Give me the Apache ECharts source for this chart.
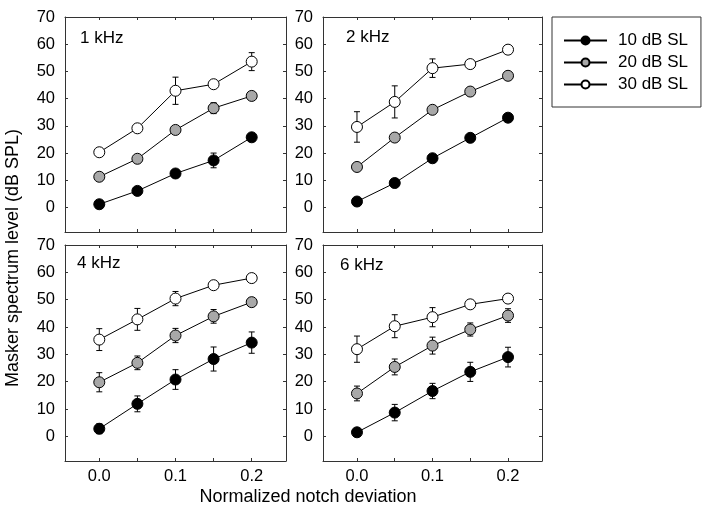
<!DOCTYPE html>
<html>
<head>
<meta charset="utf-8">
<script src="https://cdn.jsdelivr.net/npm/echarts@6/dist/echarts.min.js"></script>
<style>html,body{margin:0;padding:0;background:#fff}#c{width:709px;height:512px}</style>
</head>
<body>
<div id="c"></div>
<script>
// ---- data ----
var notchX = [0, 0.05, 0.1, 0.15, 0.2];
var seriesNames = ['10 dB SL', '20 dB SL', '30 dB SL'];
var panelNames = ['1 kHz', '2 kHz', '4 kHz', '6 kHz'];
var xTickLabels = [0, 0.1, 0.2];
var yTickLabels = [0, 10, 20, 30, 40, 50, 60, 70];

var k1_sl10 = [1.2, 6.1, 12.5, 17.3, 25.8];
var k1_sl20 = [11.3, 17.9, 28.5, 36.5, 41.0];
var k1_sl30 = [20.3, 29.1, 42.9, 45.3, 53.6];
var k1_sl10_err = [1.0, 1.0, 1.0, 2.7, 1.0];
var k1_sl20_err = [1.0, 1.0, 1.0, 2.0, 1.0];
var k1_sl30_err = [1.0, 1.0, 5.0, 1.0, 3.3];

var k2_sl10 = [2.2, 9.0, 18.1, 25.6, 33.0];
var k2_sl20 = [14.9, 25.7, 35.9, 42.6, 48.4];
var k2_sl30 = [29.6, 38.8, 51.2, 52.7, 58.0];
var k2_sl10_err = [1.0, 1.0, 1.0, 1.0, 1.0];
var k2_sl20_err = [1.0, 1.0, 1.0, 1.0, 1.0];
var k2_sl30_err = [5.6, 5.9, 3.4, 1.0, 1.0];

var k4_sl10 = [2.8, 11.9, 20.8, 28.3, 34.3];
var k4_sl20 = [19.8, 26.9, 36.9, 43.9, 49.1];
var k4_sl30 = [35.4, 42.8, 50.4, 55.3, 57.9];
var k4_sl10_err = [1.8, 2.9, 3.6, 4.4, 3.9];
var k4_sl20_err = [3.5, 2.5, 2.6, 2.5, 1.5];
var k4_sl30_err = [4.0, 4.0, 2.6, 1.0, 1.0];

var k6_sl10 = [1.5, 8.7, 16.6, 23.6, 29.0];
var k6_sl20 = [15.7, 25.4, 33.2, 39.1, 44.2];
var k6_sl30 = [31.9, 40.3, 43.6, 48.3, 50.4];
var k6_sl10_err = [1.0, 3.0, 2.8, 3.5, 3.6];
var k6_sl20_err = [2.7, 2.9, 3.1, 2.4, 2.5];
var k6_sl30_err = [4.8, 4.2, 3.5, 1.5, 1.0];

var panelValues = [
  [k1_sl10, k1_sl20, k1_sl30],
  [k2_sl10, k2_sl20, k2_sl30],
  [k4_sl10, k4_sl20, k4_sl30],
  [k6_sl10, k6_sl20, k6_sl30]
];
var panelErrors = [
  [k1_sl10_err, k1_sl20_err, k1_sl30_err],
  [k2_sl10_err, k2_sl20_err, k2_sl30_err],
  [k4_sl10_err, k4_sl20_err, k4_sl30_err],
  [k6_sl10_err, k6_sl20_err, k6_sl30_err]
];

// ---- styling ----
var FONT = "'Liberation Sans', Arial, Helvetica, sans-serif";
var fills = ['#000000', '#a8a8a8', '#ffffff'];
var frame = '#333333';
var grids = [
  {left: 65, top: 17, width: 221, height: 215},
  {left: 323, top: 17, width: 219, height: 215},
  {left: 65, top: 245, width: 221, height: 216},
  {left: 323, top: 245, width: 219, height: 216}
];
var labelPos = [[80, 40], [346, 39], [77, 265], [340, 267]];

var xAxes = [], yAxes = [], series = [], graphics = [];
function tickCfg(){ return {show: true, inside: true, length: 3, lineStyle: {color: frame, width: 1}, customValues: notchX}; }

grids.forEach(function(g, i){
  var bottomRow = i >= 2;
  ['bottom', 'top'].forEach(function(pos, k){
    xAxes.push({
      type: 'value', gridIndex: i, position: pos, min: -0.045, max: 0.245,
      axisLine: {show: true, onZero: false, lineStyle: {color: frame, width: 1}},
      axisTick: tickCfg(),
      splitLine: {show: false},
      axisLabel: {show: bottomRow && k === 0, customValues: xTickLabels, margin: 7,
        color: '#000', fontSize: 16.5, fontFamily: FONT,
        formatter: function(v){ return v.toFixed(1); }}
    });
  });
  ['left', 'right'].forEach(function(pos, k){
    yAxes.push({
      type: 'value', gridIndex: i, position: pos, min: -9, max: 70,
      axisLine: {show: true, onZero: false, lineStyle: {color: frame, width: 1}},
      axisTick: {show: true, inside: true, length: 3, lineStyle: {color: frame, width: 1}, customValues: yTickLabels},
      splitLine: {show: false},
      axisLabel: {show: k === 0, customValues: yTickLabels, margin: 10,
        color: '#000', fontSize: 16.5, fontFamily: FONT}
    });
  });

  for (var s = 0; s < 3; s++) {
    var vals = panelValues[i][s], errs = panelErrors[i][s];
    var pts = notchX.map(function(x, j){ return [x, vals[j]]; });
    var ebs = notchX.map(function(x, j){ return [x, vals[j], errs[j]]; });
    series.push({
      type: 'custom', xAxisIndex: 2 * i, yAxisIndex: 2 * i, z: 1, silent: true,
      data: ebs,
      renderItem: function(params, api){
        var x = api.value(0), y = api.value(1), e = api.value(2);
        var t = api.coord([x, y + e]), b = api.coord([x, y - e]);
        var hw = 3;
        var st = {stroke: '#000', lineWidth: 1};
        return {type: 'group', children: [
          {type: 'line', shape: {x1: t[0], y1: t[1], x2: b[0], y2: b[1]}, style: st},
          {type: 'line', shape: {x1: t[0] - hw, y1: t[1], x2: t[0] + hw, y2: t[1]}, style: st},
          {type: 'line', shape: {x1: b[0] - hw, y1: b[1], x2: b[0] + hw, y2: b[1]}, style: st}
        ]};
      }
    });
    series.push({
      type: 'line', name: seriesNames[s], xAxisIndex: 2 * i, yAxisIndex: 2 * i, z: 3,
      data: pts, symbol: 'circle', symbolSize: 11, showSymbol: true,
      lineStyle: {color: '#000', width: 1},
      itemStyle: {color: fills[s], borderColor: '#000', borderWidth: 1},
      emphasis: {disabled: true}, animation: false
    });
  }

  graphics.push({
    type: 'text', left: labelPos[i][0], top: labelPos[i][1] - 10,
    style: {text: panelNames[i], fontSize: 17, fontFamily: FONT, fill: '#000'}
  });
});

graphics.push({
  type: 'text', x: 308, y: 497,
  style: {text: 'Normalized notch deviation', fontSize: 18, fontFamily: FONT, fill: '#000',
    textAlign: 'center', textVerticalAlign: 'middle'}
});
graphics.push({
  type: 'text', x: 13, y: 258, rotation: Math.PI / 2,
  style: {text: 'Masker spectrum level (dB SPL)', fontSize: 18, fontFamily: FONT, fill: '#000',
    textAlign: 'center', textVerticalAlign: 'middle'}
});

var chart = echarts.init(document.getElementById('c'), null, {renderer: 'canvas'});
chart.setOption({
  animation: false,
  backgroundColor: '#fff',
  grid: grids.map(function(g){ return Object.assign({containLabel: false}, g); }),
  xAxis: xAxes,
  yAxis: yAxes,
  legend: {
    orient: 'vertical', left: 552, top: 17,
    padding: [15, 13, 14, 11],
    itemWidth: 43, itemHeight: 10, itemGap: 5,
    borderColor: frame, borderWidth: 1,
    selectedMode: false,
    textStyle: {fontSize: 17, color: '#000', fontFamily: FONT, padding: [0, 0, 0, 6]},
    data: seriesNames
  },
  graphic: graphics,
  series: series
});
</script>
</body>
</html>
